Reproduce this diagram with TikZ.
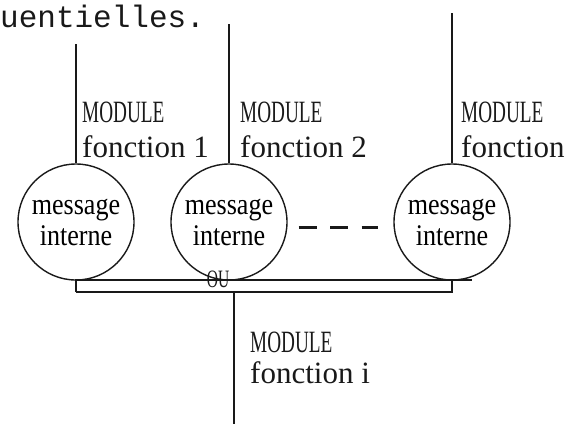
\documentclass[tikz,border=0pt]{standalone}
\usepackage{fontspec}
\usepackage{tikz}
\usetikzlibrary{positioning, calc}
\newfontfamily\fnfont{Liberation Serif}
\newfontfamily\msgfont[FakeStretch=0.87]{Liberation Serif}
\newfontfamily\capfont[FakeStretch=0.62]{Liberation Serif}
\newfontfamily\ttyfont{Liberation Mono}
\definecolor{ink}{RGB}{25,25,25}
\tikzset{
  wire/.style={line width=1.4pt, color=ink},
  msgcircle/.style={circle, draw=ink, line width=1.4pt, minimum size=116pt,
    inner sep=0pt, align=center, font=\msgfont\fontsize{30}{31}\selectfont},
  modlabel/.style={anchor=north west, inner sep=0pt, align=left, color=ink,
    font=\fnfont\fontsize{31}{35}\selectfont},
  etcline/.style={line width=3pt, color=ink, dash pattern=on 18pt off 13.5pt}
}

\begin{document}
\begin{tikzpicture}[x=1pt, y=-1pt]
  \useasboundingbox (0,0) rectangle (569,424);

  % Text above
  \node[anchor=base west, inner sep=0pt, color=ink,
    font=\ttyfont\fontsize{31}{31}\selectfont] (txt) at (0,27) {uentielles.};

  % Messages
  \node[msgcircle] (m1) at (76,222) {message\\interne};
  \node[msgcircle] (m2) at (229,222) {message\\interne};
  \node[msgcircle] (m3) at (452,222) {message\\interne};

  % Module lines
  \coordinate (top1) at (76,44);
  \coordinate (top2) at (229,24);
  \coordinate (top3) at (452,13);
  \draw[wire] (top1) -- (m1);
  \draw[wire] (top2) -- (m2);
  \draw[wire] (top3) -- (m3);

  % Module labels
  \node[modlabel] (f1) at (82,102) {{\capfont MODULE}\\fonction 1};
  \node[modlabel] (f2) at (240,102) {{\capfont MODULE}\\fonction 2};
  \node[modlabel] (f3) at (461,102) {{\capfont MODULE}\\fonction};

  % Others
  \draw[etcline] ([yshift=-5pt]m2.east) ++(11pt,0) -- ([yshift=-5pt,xshift=-15pt]m3.west);

  % Bus
  \coordinate (tl) at (76,280);
  \coordinate (tr) at (472,280);
  \coordinate (bl) at (76,292);
  \coordinate (br) at (452,292);
  \draw[wire] (bl) -- (tl) -- (tr);
  \draw[wire] (bl) -- (br) -- (br |- tl);
  \node[inner sep=0pt, color=ink, font=\capfont\fontsize{25}{25}\selectfont] (ou) at (218,279) {OU};

  % Module i
  \coordinate (jn) at (234,292);
  \coordinate (bot) at (234,424);
  \draw[wire] (jn) -- (bot);
  \node[modlabel, font=\fnfont\fontsize{31}{31}\selectfont] (fi) at (250,332) {{\capfont MODULE}\\fonction i};

\end{tikzpicture}
\end{document}
